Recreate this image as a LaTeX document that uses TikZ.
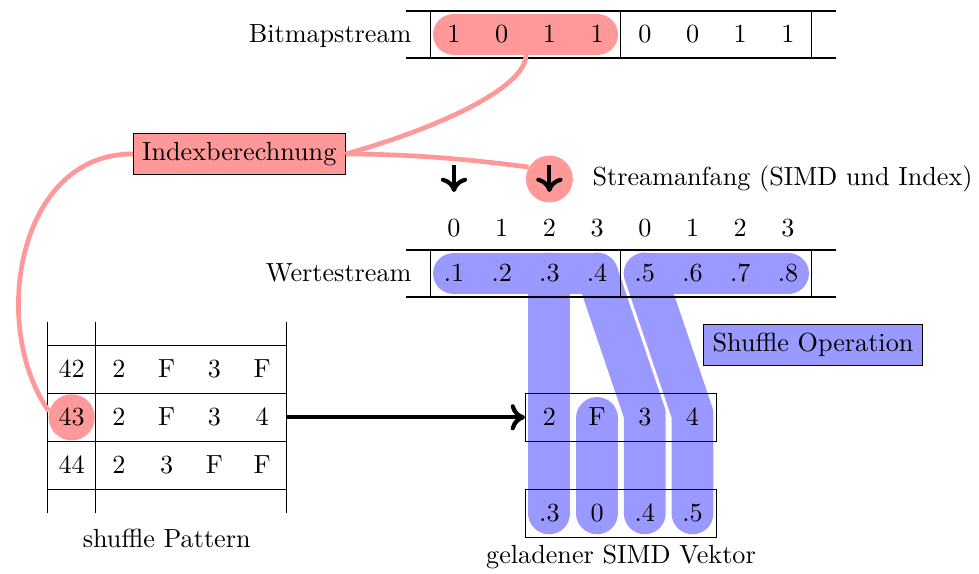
\documentclass[tikz,border=0pt]{standalone}
\usetikzlibrary{arrows.meta}
\definecolor{hred}{HTML}{FF9999}
\definecolor{hblue}{HTML}{9999FF}
\begin{document}
\begin{tikzpicture}[x=0.013423cm, y=-0.013423cm,
  cell/.style={inner sep=0pt, anchor=base},
  lbl/.style={inner sep=0pt},
  hlbar/.style={line width=16pt, line cap=round, line join=round},
  link/.style={hred, line width=1.8pt},
  bigarrow/.style={line width=1.6pt, -{Computer Modern Rightarrow[length=5.5pt,width=10pt]}},
  box/.style={draw, inner sep=3.33pt},
  simdbox/.style={draw, minimum width=2.564cm, minimum height=0.644cm, inner sep=0pt}
]
\useasboundingbox (0,0) rectangle (979,573);

% ---- highlights
\draw[hlbar, hred] (454,34.5) -- (597.1,34.5);
\coordinate (bitlink) at (526,55);
\draw[hlbar, hblue] (454,273.5) -- (597.1,273.5);
\draw[hlbar, hblue] (644.8,273.5) -- (788,273.5);
\draw[hlbar, hblue] (549.4,273.5) -- (549.4,513.3);
\draw[hlbar, hblue] (597.1,273.5) -- (644.8,414) -- (644.8,513.3);
\draw[hlbar, hblue] (644.8,273.5) -- (692.5,414) -- (692.5,513.3);
\draw[hlbar, hblue] (597.1,418) -- (597.1,513.3);

% ---- Bitmapstream
\draw (406.3,11) -- (835.7,11);
\draw (406.3,58) -- (835.7,58);
\foreach \x in {430.1,620.9,811.8} \draw (\x,11) -- (\x,58);
\node[lbl, anchor=base east] (bmlabel) at (412,42.9) {Bitmapstream};
\foreach \v [count=\i from 0] in {1,0,1,1,0,0,1,1}
  \node[cell] (b\i) at ({454+\i*47.71},42.9) {\v};

% ---- Streamanfang
\node[circle, fill=hred, minimum size=0.63cm, inner sep=0pt] (sc) at (549.4,179) {};
\coordinate (a1top) at (454,165);
\coordinate (a1bot) at (454,192);
\coordinate (a2top) at (549.4,165);
\coordinate (a2bot) at (549.4,192);
\draw[bigarrow] (a1top) -- (a1bot);
\draw[bigarrow] (a2top) -- (a2bot);
\node[lbl, anchor=west] (sa) at (592,179) {Streamanfang (SIMD und Index)};

% ---- index row
\foreach \v [count=\i from 0] in {0,1,2,3,0,1,2,3}
  \node[cell] (n\i) at ({454+\i*47.71},236.4) {\v};

% ---- Wertestream
\draw (406.3,250) -- (835.7,250);
\draw (406.3,297) -- (835.7,297);
\foreach \x in {430.1,620.9,811.8} \draw (\x,250) -- (\x,297);
\node[lbl, anchor=base east] (wslabel) at (412,281.9) {Wertestream};
\foreach \v [count=\i from 0] in {.1,.2,.3,.4,.5,.6,.7,.8}
  \node[cell] (w\i) at ({454+\i*47.71},281.9) {\v};

% ---- Shuffle Operation
\node[box, fill=hblue] (shuf) at (813,345) {Shuffle Operation};

% ---- Indexberechnung
\node[box, fill=hred] (idx) at (239.2,154) {Indexberechnung};

% ---- shuffle pattern table
\foreach \x in {47.7,95.7,286.7} \draw (\x,321.7) -- (\x,512.7);
\foreach \y in {345.3,393.3,441.3,489.3} \draw (47.7,\y) -- (286.7,\y);
\node[cell] (t42) at (71.7,377.7) {42};
\node[circle, fill=hred, minimum size=0.62cm, inner sep=0pt] (c43) at (71.7,417.3) {43};
\node[cell] (t44) at (71.7,473.7) {44};
\foreach \v [count=\i from 0] in {2,F,3,F}
  \node[cell] (p42\i) at ({119+\i*47.7},377.7) {\v};
\foreach \v [count=\i from 0] in {2,F,3,4}
  \node[cell] (p43\i) at ({119+\i*47.7},425.7) {\v};
\foreach \v [count=\i from 0] in {2,3,F,F}
  \node[cell] (p44\i) at ({119+\i*47.7},473.7) {\v};
\node[minimum width=2.564cm, minimum height=0.644cm, inner sep=0pt] (row43) at (191.2,417.3) {};
\node[lbl] (spl) at (166.7,538) {shuffle Pattern};

% ---- SIMD vector
\node[simdbox] (simdA) at (621,417.3) {};
\node[simdbox] (simdB) at (621,513.3) {};
\foreach \v [count=\i from 0] in {2,F,3,4}
  \node[cell] (s1\i) at ({549.4+\i*47.71},425.7) {\v};
\foreach \v [count=\i from 0] in {.3,0,.4,.5}
  \node[cell] (s2\i) at ({549.4+\i*47.71},521.7) {\v};
\node[lbl] (gsv) at (621,557) {geladener SIMD Vektor};

% ---- connectors
\draw[bigarrow] (row43.east) -- (simdA.west);
\draw[link] (idx.east) .. controls +(90,-25) and +(0,33) .. (bitlink);
\draw[link] (idx.east) .. controls +(80,0) and +(-40,-5) .. (sc.150);
\draw[link] (idx.west) .. controls +(-115,-1) and +(-60,-85) .. (c43.165);
\end{tikzpicture}
\end{document}
